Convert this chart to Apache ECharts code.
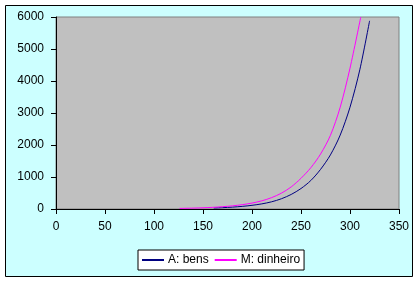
<!DOCTYPE html>
<html>
<head>
<meta charset="utf-8">
<script src="https://cdn.jsdelivr.net/npm/echarts@6/dist/echarts.min.js"></script>
<style>
html,body{margin:0;padding:0;background:#ffffff;}
#c{width:419px;height:282px;}
</style>
</head>
<body>
<div id="c"></div>
<script>
const seriesNames = ['A: bens', 'M: dinheiro'];
const xTicks = [0, 50, 100, 150, 200, 250, 300, 350];
const yTicks = [0, 1000, 2000, 3000, 4000, 5000, 6000];

const bensX = [161, 170, 180, 190, 200, 210, 220, 230, 240, 250, 260, 270, 280, 290, 300, 310, 320];
const bensY = [30, 42, 58, 82, 115, 160, 225, 320, 455, 640, 890, 1240, 1690, 2310, 3180, 4350, 5880];

const dinheiroX = [126, 140, 150, 160, 170, 180, 190, 200, 210, 220, 230, 240, 250, 260, 270, 280, 290, 300, 311];
const dinheiroY = [18, 28, 38, 52, 72, 98, 135, 185, 255, 355, 495, 690, 960, 1290, 1720, 2300, 3180, 4400, 6000];

const font = '"Liberation Sans", Arial, sans-serif';
const chart = echarts.init(document.getElementById('c'));
chart.setOption({
  animation: false,
  backgroundColor: '#ffffff',
  graphic: [{
    type: 'rect', z: -10,
    shape: {x: 5.5, y: 5.5, width: 407, height: 271},
    style: {fill: '#CCFFFF', stroke: '#000000', lineWidth: 1}
  }],
  grid: {
    left: 56, top: 17, width: 343, height: 192,
    show: true, backgroundColor: '#C0C0C0', borderColor: '#808080', borderWidth: 1
  },
  xAxis: {
    type: 'value', min: xTicks[0], max: xTicks[xTicks.length - 1], interval: 50,
    axisLine: {show: true, lineStyle: {color: '#000', width: 1}},
    axisTick: {show: true, length: 5, lineStyle: {color: '#000'}},
    axisLabel: {color: '#000', fontFamily: font, fontSize: 12, margin: 12, formatter: v => String(v)},
    splitLine: {show: false}
  },
  yAxis: {
    type: 'value', min: yTicks[0], max: yTicks[yTicks.length - 1], interval: 1000,
    axisLine: {show: true, lineStyle: {color: '#000', width: 1}},
    axisTick: {show: true, length: 5, lineStyle: {color: '#000'}},
    axisLabel: {color: '#000', fontFamily: font, fontSize: 12, margin: 12, formatter: v => String(v)},
    splitLine: {show: false}
  },
  legend: {
    left: 138, top: 250,
    backgroundColor: '#ffffff', borderColor: '#000000', borderWidth: 1,
    padding: [4, 4, 4, 4],
    itemGap: 6, itemWidth: 22, itemHeight: 2,
    icon: 'rect',
    textStyle: {color: '#000', fontFamily: font, fontSize: 12, padding: [0, 0, 0, -1]},
    data: seriesNames
  },
  series: [
    {
      name: seriesNames[0], type: 'line', showSymbol: false, symbol: 'none',
      smooth: 0.3,
      lineStyle: {color: '#000080', width: 1}, itemStyle: {color: '#000080'},
      data: bensX.map((x, i) => [x, bensY[i]])
    },
    {
      name: seriesNames[1], type: 'line', showSymbol: false, symbol: 'none',
      smooth: 0.3,
      lineStyle: {color: '#FF00FF', width: 1}, itemStyle: {color: '#FF00FF'},
      data: dinheiroX.map((x, i) => [x, dinheiroY[i]])
    }
  ]
});
</script>
</body>
</html>
